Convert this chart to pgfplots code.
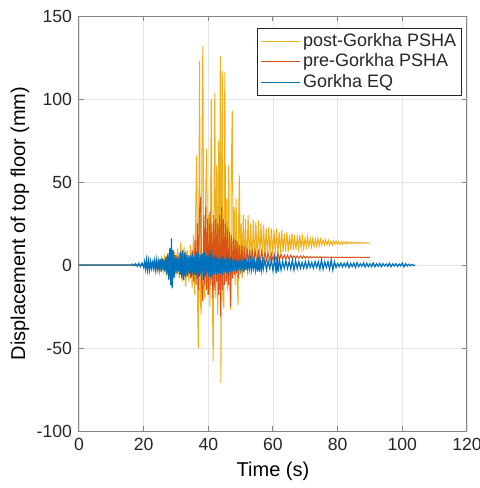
\documentclass[border=0pt]{standalone}
\usepackage{fontspec}
\setmainfont{Liberation Sans}
\usepackage{pgfplots}
\pgfplotsset{compat=1.18}
\definecolor{mYel}{HTML}{EDB120}
\definecolor{mOra}{HTML}{D95319}
\definecolor{mBlu}{HTML}{0072BD}
\definecolor{mTxt}{HTML}{262626}
\definecolor{mAx}{HTML}{858585}
\definecolor{mGrid}{HTML}{E6E6E6}
\begin{document}
\begin{tikzpicture}
\path[use as bounding box] (-39.5pt,-28.5pt) rectangle (200.5pt,215.5pt);
\begin{axis}[
  at={(0,0)}, anchor=south west,
  scale only axis, width=194pt, height=207.5pt,
  xmin=0, xmax=120, ymin=-100, ymax=150,
  xtick={0,20,...,120}, ytick={-100,-50,...,150},
  grid=major, major grid style={color=mGrid, line width=0.4pt},
  axis line style={color=mAx, line width=0.5pt},
  tick style={color=mAx, line width=0.5pt},
  tick align=inside, major tick length=2.5pt,
  xtick pos=both, ytick pos=both,
  tick label style={font=\fontsize{8.8}{10}\selectfont, text=mTxt},
  /pgf/number format/assume math mode=true,
  /pgf/number format/1000 sep={},
  xlabel={Time (s)}, ylabel={Displacement of top floor (mm)},
  label style={font=\fontsize{12.4}{14}\selectfont, text=mTxt},
  every axis x label/.style={at={(axis description cs:0.5,-0.098)}, anchor=center},
  every axis y label/.style={at={(axis description cs:-0.152,0.5)}, rotate=90, anchor=center},
  legend style={at={(0.987,0.972)}, anchor=north east, draw=mTxt, line width=0.4pt,
    font=\fontsize{9}{10}\selectfont, text=mTxt, inner sep=1.5pt, row sep=0pt,
    nodes={inner ysep=1.1pt, inner xsep=1.2pt}},
  legend cell align=left,
  legend image code/.code={\draw[#1, line width=0.6pt] (0pt,0pt) -- (19.5pt,0pt);},
]
% post-Gorkha PSHA
\addplot[color=mYel, line width=0.5pt] coordinates {
(0,0) (20,0) (20.5,0.5) (21,-0.5) (21.5,1) (22,-1) (22.5,1.5) (23,-1.5) (23.5,2.5) (24,-2.5)
(24.5,3.5) (25,-3) (25.5,4) (26,-4) (26.5,5) (27,-5) (27.5,4) (28,-6) (28.5,6) (29,-7)
(29.5,8) (30,-6) (30.5,10) (31,-8) (31.5,14) (32,-10) (32.5,11) (33,-13) (33.5,9) (34,-10)
(34.5,12) (35,-14) (35.4,18) (35.8,-18) (36.1,35) (36.4,66) (36.7,-25) (36.9,-50) (37.1,40) (37.3,123)
(37.5,-20) (37.8,-30) (38.0,60) (38.3,132) (38.6,-15) (38.9,-20) (39.2,45) (39.5,70) (39.8,-18) (40.1,30)
(40.5,-25) (40.9,100) (41.2,-10) (41.5,-58) (41.8,50) (42.0,104) (42.3,-20) (42.6,60) (42.9,-30) (43.2,75)
(43.5,-15) (43.7,126) (43.9,-71) (44.1,50) (44.3,117) (44.5,-20) (44.8,-26) (45.1,116) (45.4,-10) (45.7,40)
(46.0,-15) (46.3,60) (46.6,-10) (46.9,-27) (47.1,55) (47.4,93) (47.7,-5) (48.0,35) (48.3,-12) (48.6,40)
(48.9,-10) (49.2,-24) (49.4,30) (49.6,54) (49.9,-5) (50.2,25) (50.5,-8) (50.8,30) (51.1,-5) (51.5,28)
(51.9,-3) (52.3,30) (52.7,0) (53.1,25) (53.5,-2) (53.9,27) (54.3,2) (54.7,26) (55.1,3) (55.5,27)
(55.9,4) (56.3,25) (56.7,4) (57.1,24) (57.5,5) (57.9,22) (58.3,5) (58.7,23) (59.1,6) (59.5,22)
(59.9,6) (60.3,21) (60.7,7) (61.1,22) (61.5,6) (61.9,20) (62.3,7) (62.7,21) (63.1,8) (63.5,19)
(63.9,8) (64.3,20) (64.7,8) (65.1,18) (65.5,9) (65.9,19) (66.3,9) (66.7,18) (67.1,9) (67.5,17)
(67.9,10) (68.3,18) (68.7,10) (69.1,17) (69.5,10) (69.9,16) (70.3,11) (70.7,17) (71.1,11) (71.5,16)
(71.9,11) (72.3,16) (72.7,11) (73.1,15.5) (73.5,11.5) (73.9,16) (74.3,11.5) (74.7,15.5) (75.1,12) (75.5,15)
(75.9,12) (76.3,15) (76.7,12) (77.1,15) (77.5,12) (77.9,14.5) (78.3,12) (78.7,14.5) (79.1,12.5) (79.5,14.5)
(79.9,12.5) (80.3,14) (80.7,12.5) (81.1,14) (81.5,12.5) (81.9,14) (82.3,12.8) (82.7,14) (83.1,12.8) (83.5,13.8)
(83.9,12.8) (84.3,13.8) (84.7,13) (85.1,13.8) (85.5,13) (85.9,13.6) (86.3,13) (86.7,13.6) (87.1,13) (87.5,13.5)
(87.9,13.1) (88.3,13.5) (88.7,13.1) (89.1,13.4) (89.5,13.2) (90,13.3)
};
\addlegendentry{post-Gorkha PSHA}
% pre-Gorkha PSHA
\addplot[color=mOra, line width=0.5pt] coordinates {
(0,0) (20,0) (21,0.5) (21.5,-0.5) (22,1) (22.5,-1) (23,1.5) (23.5,-1.5) (24,2) (24.5,-2)
(25,2.5) (25.5,-2.5) (26,3) (26.5,-3) (27,3.5) (27.5,-3) (28,4) (28.5,-4) (29,5) (29.5,-5)
(30,6) (30.5,-5) (31,7) (31.5,-6) (32,6) (32.5,-7) (33,8) (33.5,-7) (34,6) (34.5,-8)
(35,9) (35.5,-10) (35.9,15) (36.2,-12) (36.6,25) (36.9,-15) (37.2,30) (37.6,41) (37.9,-10) (38.3,-22)
(38.6,30) (38.9,-12) (39.2,35) (39.5,-15) (39.8,28) (40.1,-18) (40.5,32) (40.8,-12) (41.1,25) (41.4,-20)
(41.7,30) (42,-15) (42.3,28) (42.6,-10) (42.9,25) (43.2,-18) (43.5,30) (43.8,-31) (44.1,35) (44.4,-15)
(44.7,28) (45,-12) (45.3,25) (45.6,-10) (45.9,22) (46.2,-12) (46.6,20) (46.9,-25) (47.2,18) (47.5,-8)
(47.8,16) (48.1,-6) (48.4,15) (48.7,-5) (49,14) (49.3,-8) (49.6,12) (50,-3) (50.4,12) (50.8,-2)
(51.2,11) (51.6,-1) (52,10) (52.4,0) (52.8,9) (53.2,0.5) (53.6,9) (54,1) (54.5,8.5) (55,1.5)
(55.5,8) (56,2) (56.5,8) (57,2) (57.5,7.5) (58,2.5) (58.5,7) (59,2.5) (59.5,7) (60,3)
(60.5,6.5) (61,3) (61.5,7) (62,3) (62.5,6.5) (63,3.5) (63.5,6) (64,3.5) (64.5,6) (65,3.5)
(65.5,6) (66,4) (66.5,5.5) (67,4) (67.5,5.5) (68,4) (68.5,5.5) (69,4) (69.5,5.5) (70,4.2)
(70.5,5.2) (71,4.2) (71.5,5.2) (72,4.3) (72.5,5) (73,4.3) (73.5,5) (74,4.4) (74.5,5) (75,4.4)
(75.5,4.9) (76,4.4) (76.5,4.9) (77,4.5) (77.5,4.8) (78,4.5) (78.5,4.8) (79,4.5) (79.5,4.8) (80,4.5)
(80.5,4.7) (81,4.5) (81.5,4.7) (82,4.5) (82.5,4.7) (83,4.5) (83.5,4.7) (84,4.5) (84.5,4.7) (85,4.6)
(85.5,4.7) (86,4.6) (86.5,4.7) (87,4.6) (88,4.6) (89,4.6) (90,4.6)
};
\addlegendentry{pre-Gorkha PSHA}
% Gorkha EQ
\addplot[color=mBlu, line width=0.6pt] coordinates {
(0,0) (16,0) (16.5,0.5) (17,-0.5) (17.5,0.8) (18,-0.8) (18.5,1) (19,-1) (19.5,1.2) (20,-1.5)
(20.3,2) (20.6,-2.5) (20.9,3) (21.2,-3) (21.5,2.5) (21.8,-3) (22.1,2) (22.4,-2) (22.7,1.5) (23,-2)
(23.3,2.5) (23.6,-3) (23.9,3) (24.2,-2.5) (24.5,2) (24.8,-3) (25.1,3.5) (25.4,-4) (25.7,4) (26,-3)
(26.3,3) (26.6,-4) (26.9,5) (27.2,-6) (27.5,7) (27.8,-9) (28.1,10) (28.4,-12) (28.6,16) (28.8,-14)
(29.1,9) (29.4,-8) (29.7,6) (30,-5) (30.3,5) (30.6,-4) (30.9,4) (31.2,-6) (31.5,8) (31.8,-8)
(32.1,9) (32.4,-9) (32.7,7) (33,-7) (33.3,6) (33.6,-6) (33.9,5) (34.2,-5) (34.5,6) (34.8,-7)
(35.1,7) (35.4,-6) (35.7,5) (36,-6) (36.3,7) (36.6,-8) (36.9,8) (37.2,-7) (37.5,6) (37.8,-6)
(38.1,7) (38.4,-9) (38.7,8) (39,-7) (39.3,6) (39.6,-5) (39.9,6) (40.2,-7) (40.5,9) (40.8,-8)
(41.1,7) (41.4,-6) (41.7,5) (42,-5) (42.3,6) (42.6,-6) (42.9,5) (43.2,-5) (43.5,4) (43.8,-5)
(44.1,6) (44.4,-6) (44.7,5) (45,-4) (45.3,4) (45.6,-5) (45.9,6) (46.2,-5) (46.5,4) (46.8,-4)
(47.1,5) (47.4,-4) (47.7,3) (48,-3) (48.3,4) (48.6,-4) (48.9,3) (49.2,-3) (49.5,3) (49.8,-3)
(50.1,2.5) (50.4,-3) (50.7,3) (51,-4) (51.3,4) (51.6,-3) (51.9,3) (52.2,-3) (52.5,2.5) (52.8,-2.5)
(53.1,3) (53.4,-3) (53.7,2) (54,-2) (54.3,2.5) (54.6,-3) (54.9,3) (55.2,-4) (55.5,5) (55.8,-4)
(56.1,3) (56.4,-3) (56.7,2.5) (57,-2.5) (57.5,3) (58,-3) (58.5,2.5) (59,-2) (59.5,3) (60,-3.5)
(60.5,4) (61,-5) (61.3,5) (61.6,-4) (62,3) (62.5,-3) (63,2) (63.5,-2) (64,2.5) (64.5,-2)
(65,2) (65.5,-2.5) (66,3) (66.5,-3) (67,2.5) (67.5,-2) (68,2) (68.5,-2) (69,1.5) (69.5,-2)
(70,2) (70.5,-2) (71,2) (71.5,-1.5) (72,1.5) (72.5,-2) (73,2) (73.5,-1.5) (74,2) (74.5,-2.5)
(75,3) (75.5,-2.5) (76,2) (76.5,-1.5) (77,2) (77.5,-2.5) (78,3) (78.5,-3) (79,2) (79.5,-1.5)
(80,1) (80.5,-1) (81,1.2) (81.5,-1.2) (82,1) (82.5,-1) (83,1.5) (83.5,-1.5) (84,1) (84.5,-1)
(85,1.2) (85.5,-1.5) (86,1.5) (86.5,-1) (87,0.8) (87.5,-0.8) (88,1.2) (88.5,-1.2) (89,1) (89.5,-1)
(90,0.8) (90.5,-1) (91,1.2) (91.5,-1) (92,0.8) (92.5,-0.8) (93,1) (93.5,-1) (94,0.8) (94.5,-0.6)
(95,0.6) (95.5,-0.8) (96,1) (96.5,-1) (97,0.7) (97.5,-0.6) (98,0.8) (98.5,-0.8) (99,0.6) (99.5,-0.6)
(100,1.2) (100.5,-1.2) (101,0.8) (101.5,-0.6) (102,0.5) (102.5,-0.5) (103,0.4) (103.5,-0.3) (104,0)
};
\addlegendentry{Gorkha EQ}
\end{axis}
\end{tikzpicture}
\end{document}
